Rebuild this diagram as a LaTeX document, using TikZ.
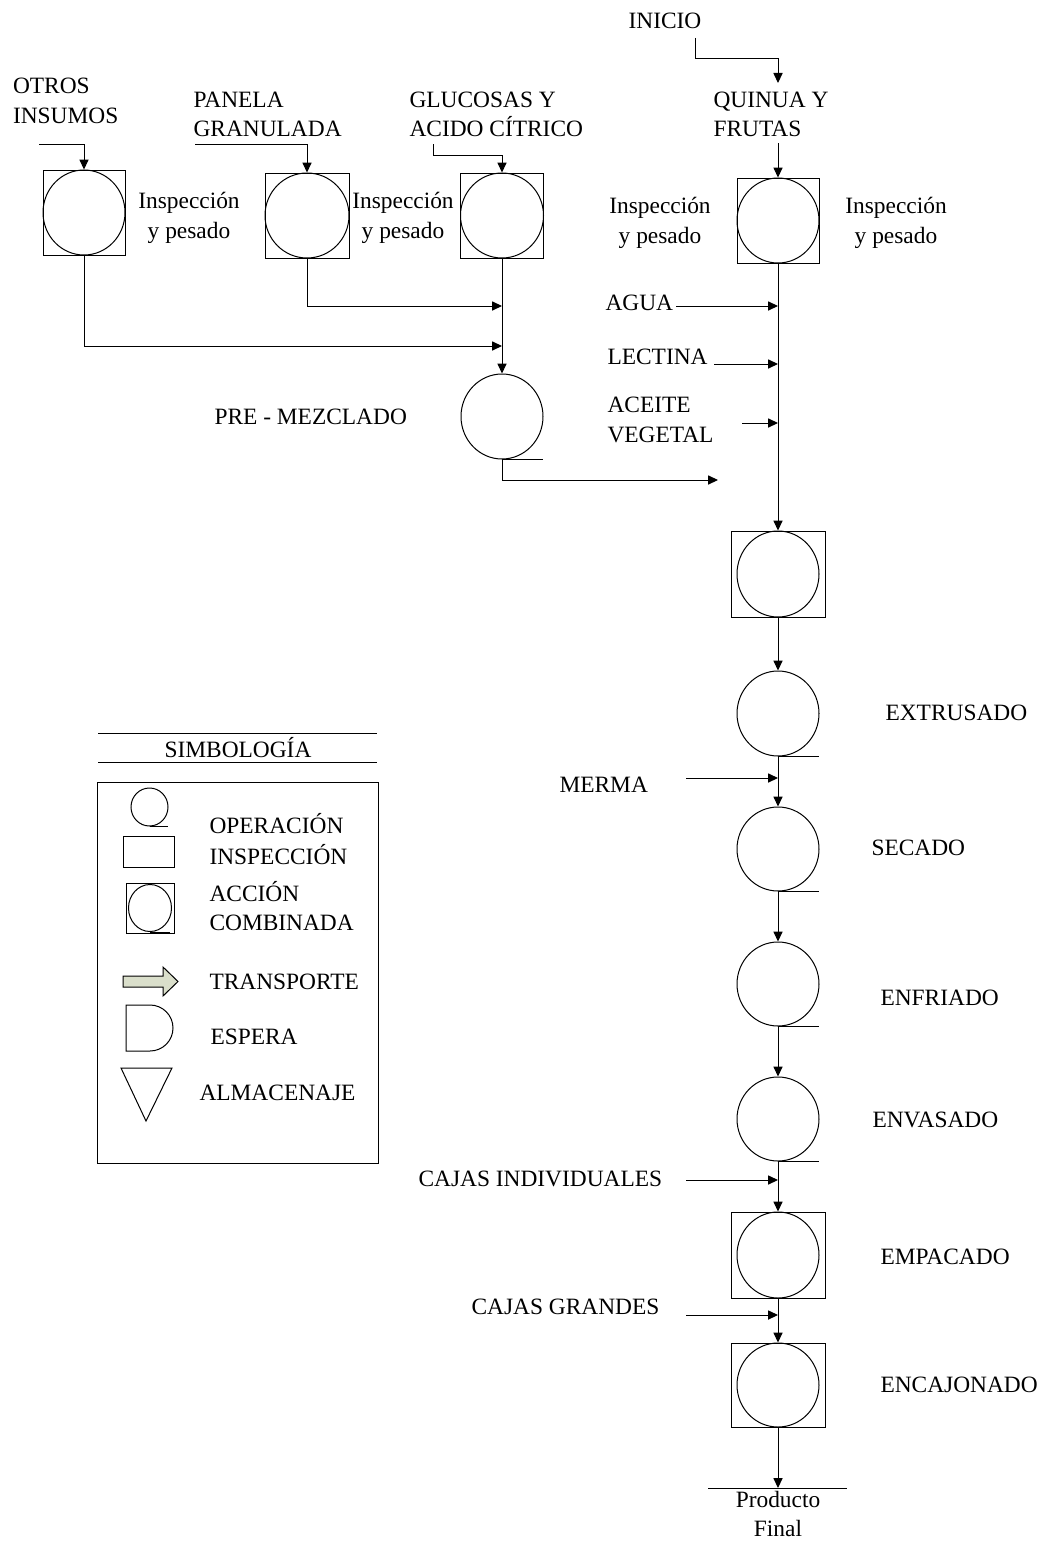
\documentclass[tikz,border=0pt]{standalone}
\usepackage{fontspec}
\setmainfont{Liberation Serif}
\usepackage{tikz}
\usetikzlibrary{arrows.meta,shapes.geometric}
\tikzset{>={Triangle[length=5pt,width=4.6pt]}}
\tikzset{
  txt/.style={inner sep=0pt, font=\fontsize{11.7}{14.7}\selectfont},
  ltxt/.style={txt, anchor=west, align=left},
  ctxt/.style={txt, align=center},
  oper/.style={draw, ellipse, inner sep=0pt, minimum width=41pt, minimum height=42.5pt},
  insp/.style={draw, rectangle, inner sep=0pt, minimum width=41pt, minimum height=42.5pt}
}
\definecolor{transp}{RGB}{218,223,203}

\begin{document}
\begin{tikzpicture}[x=0.5pt,y=-0.5pt,line width=0.5pt]
  \useasboundingbox (0,0) rectangle (1044,1541);

  \node[ltxt] (otros) at (12.5,101) {OTROS\\INSUMOS};
  \node[ltxt] (panela) at (193,114.5) {PANELA\\GRANULADA};
  \node[ltxt] (gluc) at (409,114.5) {GLUCOSAS Y\\ACIDO CÍTRICO};
  \node[ctxt] (inicio) at (665,21) {INICIO};
  \node[ltxt] (quinua) at (713,114.5) {QUINUA Y\\FRUTAS};

  \node[insp] (b1) at (84,212.5) {};
  \node[oper] (e1) at (b1) {};
  \node[insp, minimum width=42pt] (b2) at (307,215.5) {};
  \node[oper, minimum width=42pt] (e2) at (b2) {};
  \node[insp, minimum width=41.5pt] (b3) at (502,215.5) {};
  \node[oper, minimum width=41.5pt] (e3) at (b3) {};
  \node[insp] (b4) at (778,220.5) {};
  \node[oper] (e4) at (b4) {};

  \node[ctxt] (insp1) at (189,218) {Inspección\\y pesado};
  \node[ctxt] (insp2) at (403,218) {Inspección\\y pesado};
  \node[ctxt] (insp3) at (660,223) {Inspección\\y pesado};
  \node[ctxt] (insp4) at (896,223) {Inspección\\y pesado};

  \coordinate (o0) at (39,144);
  \coordinate (p0) at (195,144);
  \coordinate (g0) at (433,144);
  \coordinate (g1) at (502,155);
  \coordinate (i0) at (695,38);
  \coordinate (i1) at (778,83);
  \coordinate (q0) at (778,143);
  \draw[->] (o0) -| (b1.north);
  \draw[->] (p0) -| (b2.north);
  \draw[->] (g0) |- (g1) -- (b3.north);
  \draw[->] (i0) -- ++(0,21) -| (i1);
  \draw[->] (q0) -- (b4.north);

  \node[oper] (pre) at (502,416.5) {};
  \node[ltxt] (premez) at (214,417) {PRE - MEZCLADO};
  \coordinate (j1) at (502,346);
  \coordinate (j2) at (502,306);
  \coordinate (pf0) at (718,480);
  \draw[->] (b1.south) |- (j1);
  \draw[->] (b2.south) |- (j2);
  \draw[->] (b3.south) -- (pre.north);
  \draw[->] (pre.south) |- (pf0);

  \node[ltxt] (agua) at (605,303) {AGUA};
  \node[ltxt] (lect) at (607,357) {LECTINA};
  \node[ltxt] (aceite) at (607,420) {ACEITE\\VEGETAL};
  \node[ltxt] (merma) at (559,785) {MERMA};
  \node[ltxt] (cajind) at (418,1179) {CAJAS INDIVIDUALES};
  \node[ltxt] (cajgr) at (471,1307) {CAJAS GRANDES};
  \coordinate (a0) at (676,306);
  \coordinate (l0) at (714,364);
  \coordinate (v0) at (742,423);
  \coordinate (m0) at (686,778);
  \coordinate (k0) at (686,1180);
  \coordinate (k1) at (686,1315);

  \node[insp, minimum width=47pt, minimum height=43pt] (b5) at (778,574) {};
  \node[oper, minimum height=43pt] (e5) at (b5) {};
  \node[oper] (c6) at (778,713.5) {};
  \node[oper, minimum height=42pt] (c7) at (778,849) {};
  \node[oper, minimum height=42pt] (c8) at (778,984) {};
  \node[oper, minimum height=42pt] (c9) at (778,1119) {};
  \node[insp, minimum width=47pt, minimum height=43pt] (b10) at (778,1255) {};
  \node[oper, minimum height=43pt] (e10) at (b10) {};
  \node[insp, minimum width=47pt, minimum height=42pt] (b11) at (778,1385) {};
  \node[oper, minimum height=42pt] (e11) at (b11) {};

  \node[ltxt] (extr) at (885,713) {EXTRUSADO};
  \node[ltxt] (sec) at (871,848) {SECADO};
  \node[ltxt] (enfr) at (880,998) {ENFRIADO};
  \node[ltxt] (envas) at (872,1120) {ENVASADO};
  \node[ltxt] (empac) at (880,1257) {EMPACADO};
  \node[ltxt] (encaj) at (880,1385) {ENCAJONADO};

  \foreach \n in {pre,c6,c7,c8,c9}
    \draw (\n.south) -- ++(41,0);
  \foreach \a/\b in {b4/b5,b5/c6,c6/c7,c7/c8,c8/c9,c9/b10,b10/b11}
    \draw[->] (\a.south) -- (\b.north);
  \foreach \c in {a0,l0,v0,m0,k0,k1}
    \draw[->] (\c) -- (\c -| b4.south);

  \coordinate (fin) at (778,1488);
  \draw[->] (b11.south) -- (fin);
  \draw ([xshift=-35pt]fin) -- ([xshift=34.5pt]fin);
  \node[ctxt] (prod) at (778,1514) {Producto\\Final};

  \draw (98,733) -- (377,733);
  \node[ctxt] (simb) at (238,748) {SIMBOLOGÍA};
  \draw (98,762) -- (377,762);
  \draw (97,782) rectangle (378,1163);
  \node[oper, minimum width=18.5pt, minimum height=19pt] (s1) at (149.5,807) {};
  \draw (s1.south) -- ++(18,0);
  \node[ltxt] (operac) at (209,824) {OPERACIÓN};
  \node[insp, minimum width=25.5pt, minimum height=15.5pt] (s2) at (148.5,851.5) {};
  \node[ltxt] (inspec) at (209,855) {INSPECCIÓN};
  \node[insp, minimum width=24pt, minimum height=25pt] (s3) at (150,908) {};
  \node[oper, minimum width=21.5pt, minimum height=23.5pt] (s3c) at (s3) {};
  \draw (s3c.south) -- ++(20,0);
  \node[ltxt] (accion) at (209,906) {ACCIÓN\\COMBINADA};
  \draw[fill=transp] (123,976) -- (163,976) -- (163,967) -- (178,981.5) -- (163,996) -- (163,987) -- (123,987) -- cycle;
  \node[ltxt] (transp) at (209,982) {TRANSPORTE};
  \draw (126,1005) -- (150,1005) arc[start angle=-90, end angle=90, radius=23] -- (126,1051) -- cycle;
  \node[ltxt] (espera) at (210,1037) {ESPERA};
  \draw (121,1068) -- (172,1068) -- (146,1121) -- cycle;
  \node[ltxt] (almac) at (199,1093) {ALMACENAJE};
\end{tikzpicture}
\end{document}
